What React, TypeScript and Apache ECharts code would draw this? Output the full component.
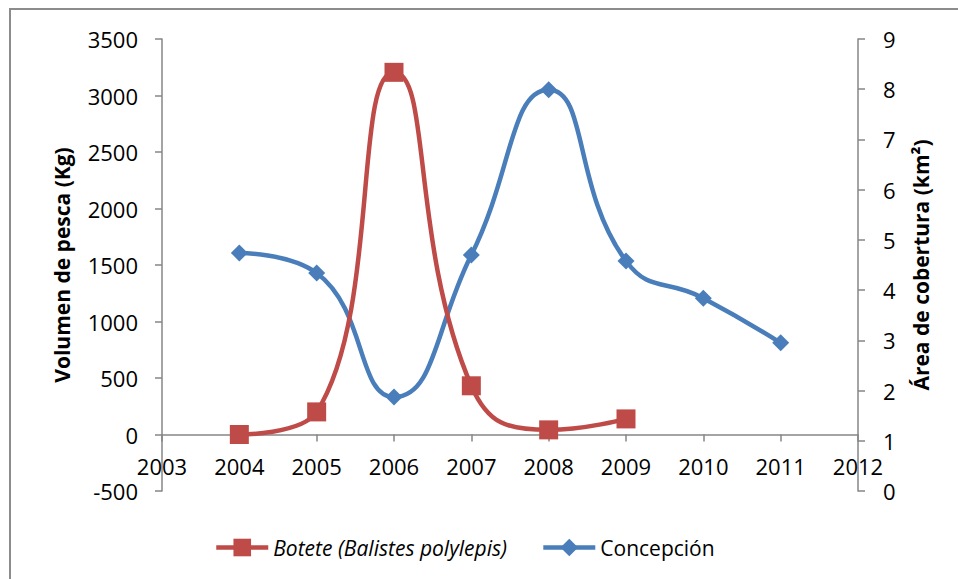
import React, { useEffect, useRef } from "react";
import * as echarts from "echarts";

const years = [2004, 2005, 2006, 2007, 2008, 2009, 2010, 2011];
const boteteValues = [0, 200, 3205, 431, 41, 138];
const concepcionValues = [4.74, 4.34, 1.87, 4.7, 7.99, 4.58, 3.84, 2.95];
const boteteName = "Botete (Balistes polylepis)";
const concepcionName = "Concepción";
const leftAxisTitle = "Volumen de pesca (Kg)";
const rightAxisTitle = "Área de cobertura (km²)";
const leftMin = -500;
const leftMax = 3500;

const FONT = "Open Sans";
const AXIS_COLOR = "#868686";
const GRID_TOP = 39;
const GRID_BOTTOM = 88;
const HEIGHT = 579;

export default function App() {
  const ref = useRef<HTMLDivElement>(null);
  useEffect(() => {
    document.body.style.margin = "0";
    const chart = echarts.init(ref.current!, null, { renderer: "svg" });
    const boteteData = boteteValues.map((v, i) => [years[i], v]);
    const concepcionData = concepcionValues.map((v, i) => [years[i], v]);
    const gridH = HEIGHT - GRID_TOP - GRID_BOTTOM;
    const zeroOffset = -((0 - leftMin) / (leftMax - leftMin)) * gridH;
    const axisLine = { show: true, lineStyle: { color: AXIS_COLOR, width: 1.5 } };
    const axisTick = { show: true, length: 7, lineStyle: { color: AXIS_COLOR, width: 1.5 } };
    chart.setOption({
      animation: false,
      backgroundColor: "#ffffff",
      textStyle: { fontFamily: FONT },
      graphic: [
        {
          type: "rect",
          shape: { x: 10, y: 9, width: 1000, height: 700 },
          style: { fill: "none", stroke: "#8c8c8c", lineWidth: 2 },
          silent: true,
        },
      ],
      grid: { left: 162, right: 100, top: GRID_TOP, bottom: GRID_BOTTOM, containLabel: false },
      legend: {
        left: 209,
        top: 532,
        itemWidth: 52,
        itemHeight: 22,
        itemGap: 34,
        lineStyle: { width: 4.5 },
        textStyle: { fontSize: 21, color: "#000", fontFamily: FONT },
        data: [
          { name: boteteName, textStyle: { fontStyle: "italic" } },
          { name: concepcionName },
        ],
      },
      xAxis: {
        type: "value",
        min: 2003,
        max: 2012,
        interval: 1,
        offset: zeroOffset,
        axisLine: { ...axisLine, onZero: false },
        axisTick: { ...axisTick, inside: false },
        splitLine: { show: false },
        axisLabel: {
          fontSize: 22,
          color: "#000",
          margin: 20,
          fontFamily: FONT,
          formatter: (v: number) => String(v),
          showMinLabel: true,
          showMaxLabel: true,
        },
      },
      yAxis: [
        {
          type: "value",
          min: leftMin,
          max: leftMax,
          interval: 500,
          position: "left",
          axisLine: { ...axisLine, onZero: false },
          axisTick,
          splitLine: { show: false },
          axisLabel: {
            fontSize: 22,
            color: "#000",
            margin: 24,
            fontFamily: FONT,
            formatter: (v: number) => String(v),
          },
          name: leftAxisTitle,
          nameLocation: "middle",
          nameGap: 90,
          nameRotate: 90,
          nameTextStyle: { fontSize: 21, fontWeight: "bold", color: "#000", fontFamily: FONT },
        },
        {
          type: "value",
          min: 0,
          max: 9,
          interval: 1,
          position: "right",
          axisLine: { ...axisLine, onZero: false },
          axisTick,
          splitLine: { show: false },
          axisLabel: { fontSize: 22, color: "#000", margin: 25, fontFamily: FONT },
          name: rightAxisTitle,
          nameLocation: "middle",
          nameGap: 52,
          nameRotate: 90,
          nameTextStyle: { fontSize: 21, fontWeight: "bold", color: "#000", fontFamily: FONT },
        },
      ],
      series: [
        {
          name: boteteName,
          type: "line",
          yAxisIndex: 0,
          data: boteteData,
          smooth: 0.5,
          symbol: "rect",
          symbolSize: 19,
          color: "#be4b48",
          lineStyle: { width: 4.5, color: "#be4b48" },
          itemStyle: { color: "#be4b48" },
          z: 3,
        },
        {
          name: concepcionName,
          type: "line",
          yAxisIndex: 1,
          data: concepcionData,
          smooth: 0.5,
          symbol: "diamond",
          symbolSize: 17,
          color: "#4a7ebb",
          lineStyle: { width: 4.5, color: "#4a7ebb" },
          itemStyle: { color: "#4a7ebb" },
          z: 2,
        },
      ],
    });
    return () => chart.dispose();
  }, []);
  return <div ref={ref} style={{ width: 958, height: 579 }} />;
}
